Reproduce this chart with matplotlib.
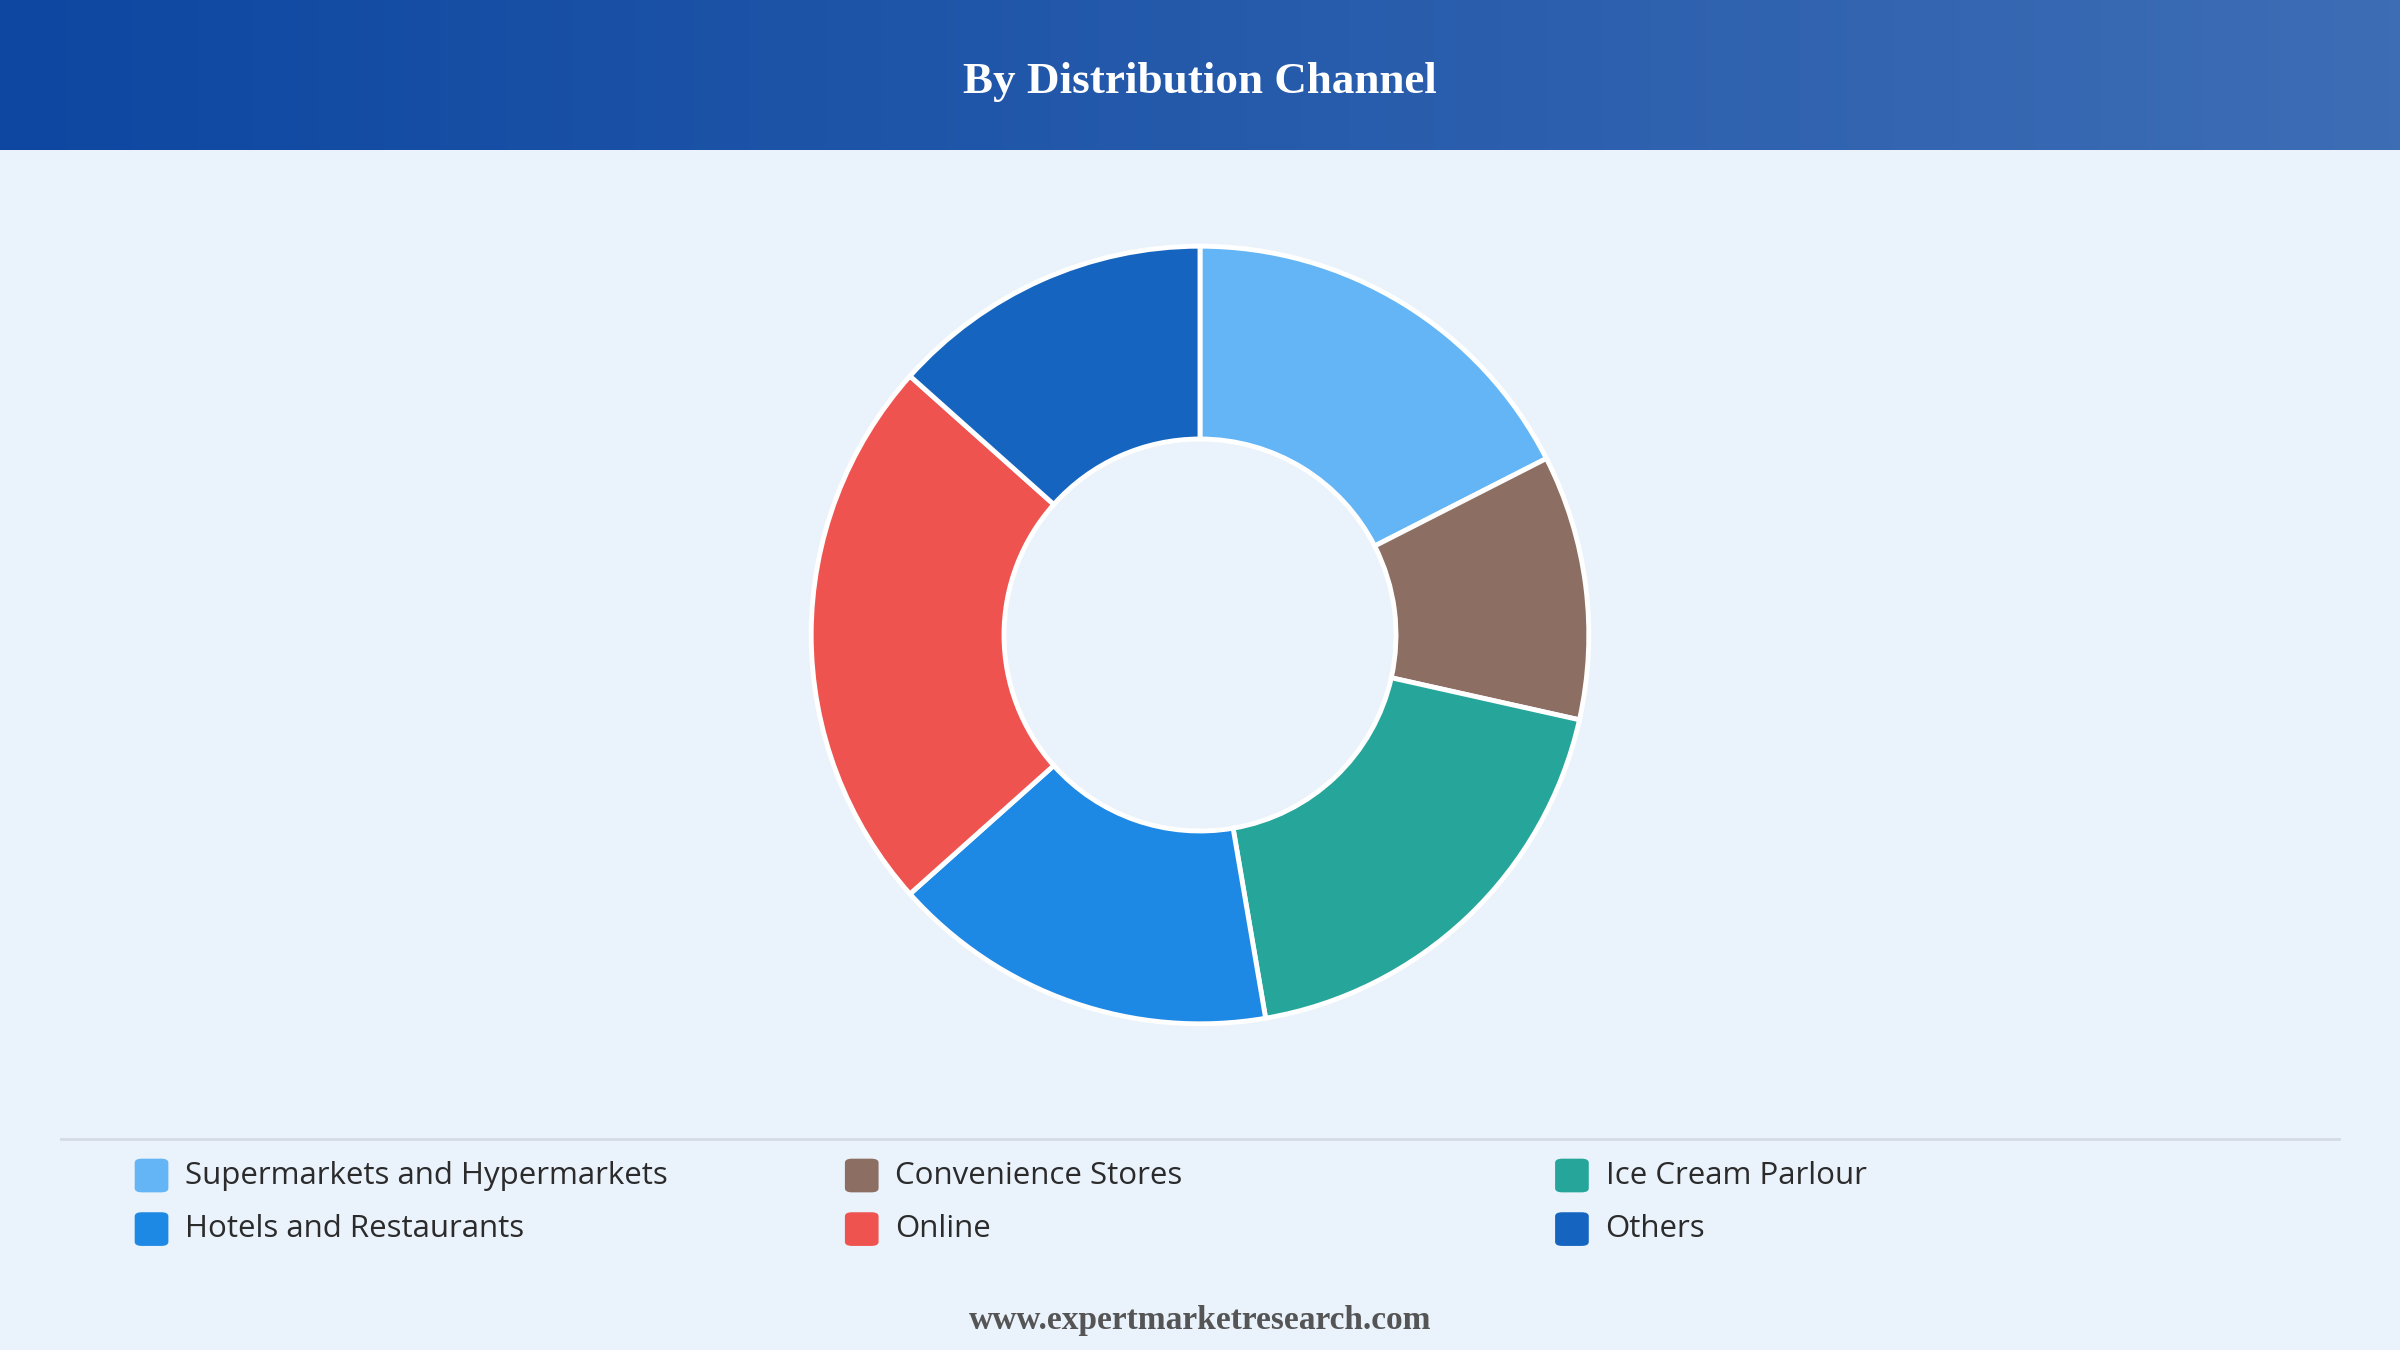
import numpy as np
import matplotlib
matplotlib.use("Agg")
import matplotlib.pyplot as plt
from matplotlib.patches import FancyBboxPatch
from matplotlib.colors import LinearSegmentedColormap

categories = ["Supermarkets and Hypermarkets", "Convenience Stores", "Ice Cream Parlour",
              "Hotels and Restaurants", "Online", "Others"]
shares = [17.5, 11.0, 18.8, 16.1, 23.2, 13.4]
colors = ["#64b5f6", "#8d6e63", "#26a69a", "#1e88e5", "#ef5350", "#1565c0"]

W, H = 2400, 1350
fig = plt.figure(figsize=(24, 13.5), dpi=100)
fig.patch.set_facecolor("#eaf2fc")

# header gradient
hdr = fig.add_axes([0, 1 - 150 / H, 1, 150 / H])
grad = np.linspace(0, 1, 256).reshape(1, -1)
cm = LinearSegmentedColormap.from_list("hdr", ["#0d47a1", "#3d6db5"])
hdr.imshow(grad, cmap=cm, aspect="auto", extent=[0, 1, 0, 1])
hdr.axis("off")
hdr.text(0.5, 0.45, "By Distribution Channel", ha="center", va="center",
         color="white", fontsize=32.5, fontweight="bold", family="Liberation Serif")

# donut
cx, cy, half = 1200, H - 635, 400
ax = fig.add_axes([(cx - half) / W, (cy - half) / H, 2 * half / W, 2 * half / H])
ax.pie(shares, colors=colors, startangle=90, counterclock=False, radius=0.972,
       wedgeprops=dict(width=0.482, edgecolor="white", linewidth=3.5))
ax.set_xlim(-1, 1)
ax.set_ylim(-1, 1)
ax.set_aspect("equal")
ax.axis("off")

# separator
fig.add_artist(plt.Line2D([40 / 1568, 1528 / 1568], [1 - 744 / 882] * 2,
                          color="#d5dbe3", linewidth=2))

# legend
col_x = [88 / 1568, 552 / 1568, 1016 / 1568]
row_y = [1 - 768 / 882, 1 - 803 / 882]
sq_w, sq_h = 22 / 1568, 22 / 882
for i, (name, c) in enumerate(zip(categories, colors)):
    x = col_x[i % 3]
    y = row_y[i // 3]
    fig.add_artist(FancyBboxPatch((x, y - sq_h / 2), sq_w, sq_h,
                                  boxstyle="round,pad=0,rounding_size=0.003",
                                  facecolor=c, edgecolor="none",
                                  transform=fig.transFigure))
    fig.text(x + 33 / 1568, y, name, ha="left", va="center", fontsize=22.5,
             color="#2b2b2b", family="Open Sans", fontweight="medium")

fig.text(0.5, 1 - 863 / 882, "www.expertmarketresearch.com", ha="center", va="center",
         fontsize=24, fontweight="bold", color="#555555", family="Liberation Serif")

fig.savefig("out.png", dpi=100, facecolor=fig.get_facecolor())
